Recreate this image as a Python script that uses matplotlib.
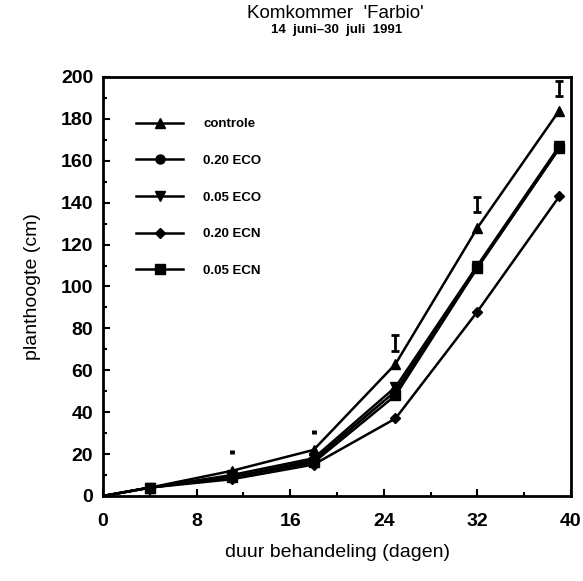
import matplotlib
matplotlib.use("Agg")
import matplotlib.pyplot as plt
from matplotlib.ticker import MultipleLocator

plt.rcParams["font.family"] = ["Liberation Sans", "DejaVu Sans"]

# days of treatment
days = [0, 4, 11, 18, 25, 32, 39]

controle = [0, 4, 12, 22, 63, 128, 184]
eco_020 = [0, 4, 9, 17, 50, 109, 166]
eco_005 = [0, 4, 10, 18, 52, 110, 167]
ecn_020 = [0, 4, 8, 15, 37, 88, 143]
ecn_005 = [0, 4, 9, 16, 48, 109, 166]

# LSD bars (centre, half-width)
lsd_days = [11, 18, 25, 32, 39]
lsd_mid = [21, 30.5, 73, 139, 194.5]
lsd_half = [0.8, 0.8, 4, 3.5, 3.5]

series = [
    ("controle", controle, "^"),
    ("0.20 ECO", eco_020, "o"),
    ("0.05 ECO", eco_005, "v"),
    ("0.20 ECN", ecn_020, "D"),
    ("0.05 ECN", ecn_005, "s"),
]

fig = plt.figure(figsize=(5.83, 5.81), dpi=100)
ax = fig.add_axes([0.1767, 0.1463, 0.8027, 0.7212])

for label, vals, mk in series:
    ms = 5 if mk == "D" else 6.5
    ax.plot(days[1:], vals[1:], color="black", lw=1.8, marker=mk, ms=ms,
            label=label)
    ax.plot(days[:2], vals[:2], color="black", lw=1.8)

# the two first LSD values are tiny -> drawn as short strokes without caps
ax.errorbar(lsd_days[:2], lsd_mid[:2], yerr=lsd_half[:2], fmt="none",
            ecolor="black", elinewidth=3.5, capsize=0)
ax.errorbar(lsd_days[2:], lsd_mid[2:], yerr=lsd_half[2:], fmt="none",
            ecolor="black", elinewidth=2, capsize=3, capthick=2)

ax.set_xlim(0, 40)
ax.set_ylim(0, 200)
ax.xaxis.set_major_locator(MultipleLocator(8))
ax.xaxis.set_minor_locator(MultipleLocator(4))
ax.yaxis.set_major_locator(MultipleLocator(20))
ax.yaxis.set_minor_locator(MultipleLocator(10))
ax.tick_params(which="both", direction="in", width=1.5)
ax.tick_params(which="major", length=5, labelsize=14, pad=7)
ax.tick_params(which="minor", length=3)
ax.tick_params(axis="x", which="major", pad=12)
for lab in ax.get_xticklabels() + ax.get_yticklabels():
    lab.set_fontweight("bold")
for sp in ax.spines.values():
    sp.set_linewidth(2)

ax.set_xlabel("duur behandeling (dagen)", fontsize=14, labelpad=10)
ax.set_ylabel("planthoogte (cm)", fontsize=14, labelpad=14)

fig.text(0.575, 0.977, "Komkommer  'Farbio'", ha="center", va="center",
         fontsize=13.5)
fig.text(0.578, 0.949, "14  juni\u201330  juli  1991", ha="center",
         va="center", fontsize=9.5, fontweight="bold")

leg = ax.legend(loc="upper left", bbox_to_anchor=(0.045, 0.93), frameon=False,
                labelspacing=1.85, handlelength=3.6, handletextpad=1.5,
                prop={"size": 9.5, "weight": "bold"})

fig.savefig("out.png", dpi=100)
